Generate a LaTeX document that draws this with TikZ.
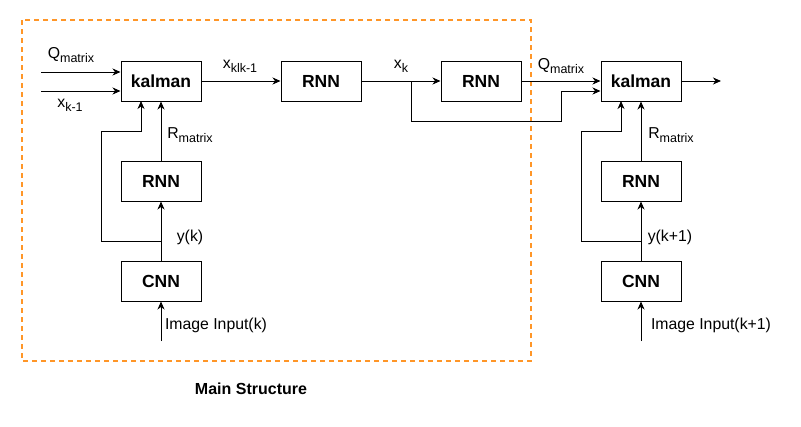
\documentclass[tikz,border=0pt]{standalone}
\usepackage{fontspec}
\setmainfont{Liberation Sans}
\usetikzlibrary{arrows.meta}
\definecolor{dorange}{RGB}{255,150,40}
\newcommand\mysub[1]{\raisebox{-0.45ex}{\fontsize{12.5}{13}\selectfont #1}}
\begin{document}
\begin{tikzpicture}[x=1pt,y=-1pt,
  box/.style={draw,line width=1pt,minimum width=80pt,minimum height=40pt,inner sep=0pt,font=\fontsize{17.5}{20}\selectfont\bfseries},
  lbl/.style={font=\fontsize{15.8}{18}\selectfont,inner sep=0pt},
  conn/.style={line width=1pt,-{Stealth[length=8pt,width=7pt,inset=2.5pt]}},
  plain/.style={line width=1pt}]
\useasboundingbox (0,0) rectangle (801,426);
\draw[dorange,line width=2pt,dash pattern=on 5pt off 4pt] (22,20) rectangle (531,361);
% nodes
\node[box] (k1) at (161,81) {kalman};
\node[box] (r1) at (321,81) {RNN};
\node[box] (r2) at (481,81) {RNN};
\node[box] (k2) at (641,81) {kalman};
\node[box] (r3) at (161,181) {RNN};
\node[box] (c1) at (161,281) {CNN};
\node[box] (r4) at (641,181) {RNN};
\node[box] (c2) at (641,281) {CNN};
\coordinate (qin) at (41,72);
\coordinate (xin) at (41,91);
\coordinate (out) at (721,81);
\coordinate (img1) at (161,341);
\coordinate (img2) at (641,341);
% left kalman inputs
\draw[conn] (qin) -- (qin -| k1.west);
\draw[conn] (xin) -- (xin -| k1.west);
\draw[conn] (k1) -- (r1);
\draw[conn] (r1) -- (r2);
\draw[conn] (r2) -- (k2);
\draw[conn] (k2) -- (out);
\draw[conn] (411,81) -- (411,121) -- (561,121) -- (561,91) -- (k2.west |- 0,91);
% left column
\draw[conn] (img1) -- (c1);
\draw[conn] (c1) -- (r3);
\draw[conn] (r3) -- (k1);
\draw[conn] (161,241) -- (101,241) -- (101,131) -- (141,131) -- (141,101);
% right column
\draw[conn] (img2) -- (c2);
\draw[conn] (c2) -- (r4);
\draw[conn] (r4) -- (k2);
\draw[conn] (641,241) -- (581,241) -- (581,131) -- (621,131) -- (621,101);
% labels
\node[lbl] (lq1) at (71,55) {Q\mysub{matrix}};
\node[lbl] (lx1) at (70,105) {x\mysub{k-1}};
\node[lbl] (lxkk) at (240,66) {x\mysub{klk-1}};
\node[lbl] (lxk) at (401,66) {x\mysub{k}};
\node[lbl] (lq2) at (561,66) {Q\mysub{matrix}};
\node[lbl] (lr1) at (190,135) {R\mysub{matrix}};
\node[lbl] (lr2) at (671,135) {R\mysub{matrix}};
\node[lbl] (ly1) at (190,237) {y(k)};
\node[lbl] (ly2) at (670,237) {y(k+1)};
\node[lbl] (li1) at (216,325) {Image Input(k)};
\node[lbl] (li2) at (711,325) {Image Input(k+1)};
\node[lbl,font=\fontsize{16}{18}\selectfont\bfseries] (ms) at (251,389) {Main Structure};
\end{tikzpicture}
\end{document}
